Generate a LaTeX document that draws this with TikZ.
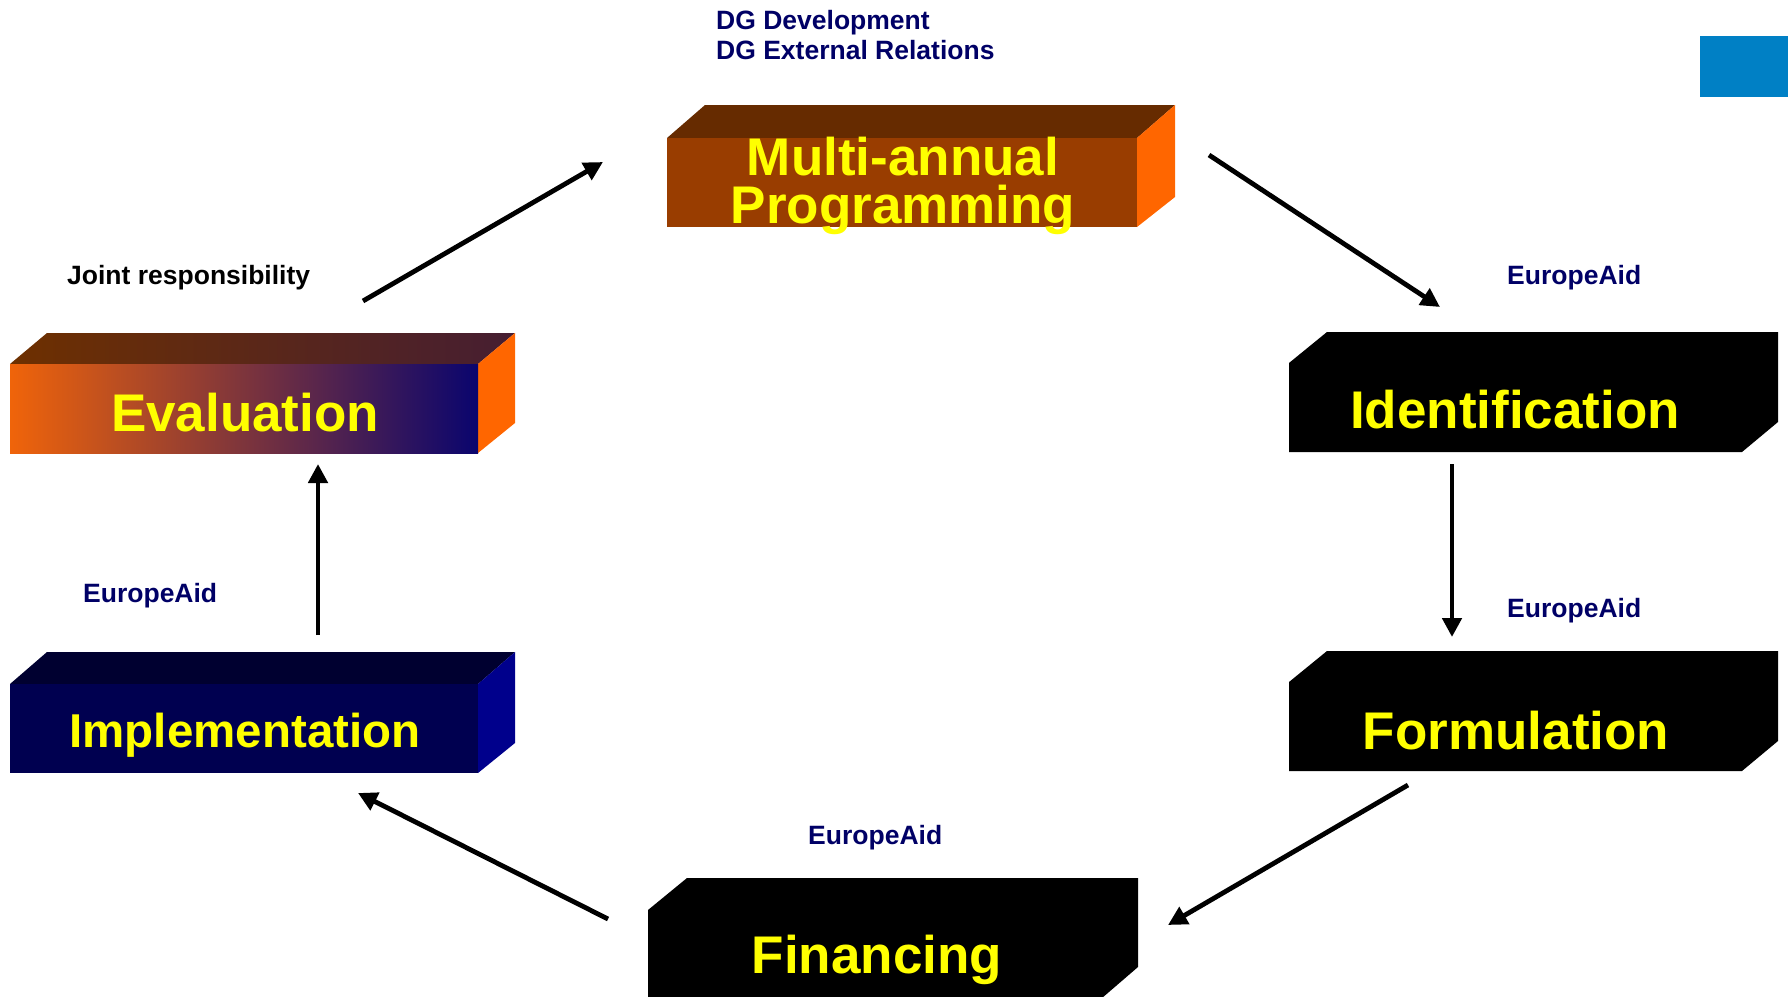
\documentclass[tikz,border=0pt]{standalone}
\usepackage{fontspec}
\setmainfont{Liberation Sans}
\usetikzlibrary{arrows.meta}
\definecolor{navytxt}{RGB}{0,0,102}
\definecolor{boxyellow}{RGB}{255,255,0}
\definecolor{mfront}{RGB}{153,61,0}
\definecolor{mtop}{RGB}{102,43,0}
\definecolor{morange}{RGB}{255,102,0}
\definecolor{evleft}{RGB}{240,100,10}
\definecolor{evmid}{RGB}{135,55,60}
\definecolor{evright}{RGB}{10,5,110}
\definecolor{evtopl}{RGB}{110,48,0}
\definecolor{evtopr}{RGB}{70,30,50}
\definecolor{imfront}{RGB}{0,0,80}
\definecolor{imtop}{RGB}{0,0,48}
\definecolor{imright}{RGB}{0,0,140}
\definecolor{logoblue}{RGB}{0,128,197}
\tikzset{
  bigtxt/.style={text=boxyellow, font=\fontsize{53}{47}\selectfont\bfseries, inner sep=0pt, anchor=base, align=center},
  lbl/.style={text=navytxt, font=\fontsize{26.5}{26}\selectfont\bfseries, inner sep=0pt, anchor=base west, align=left},
  lblk/.style={text=black, font=\fontsize{26.5}{26}\selectfont\bfseries, inner sep=0pt, anchor=base west},
  flow/.style={line width=4.8pt, -{Triangle[length=19pt,width=19pt]}}
}
\begin{document}
\begin{tikzpicture}[x=1pt,y=-1pt]
\useasboundingbox (0,0) rectangle (1788,996);
\clip (0,0) rectangle (1788,996);
% logo block
\fill[logoblue] (1700,36) rectangle (1790,97);
% Multi-annual programming box
\fill[mtop] (667,138) -- (705,105) -- (1175,105) -- (1137,138) -- cycle;
\fill[morange] (1137,138) -- (1175,105) -- (1175,197) -- (1137,227) -- cycle;
\fill[mfront] (667,138) rectangle (1137,227);
\node[bigtxt] (multi) at (903,175) {Multi-annual};
\node[bigtxt] (prog) at (903,223) {Programming};
% Evaluation box
\shade[left color=evtopl, right color=evtopr] (10,364) -- (47,333) -- (515,333) -- (478,364) -- cycle;
\fill[morange] (478,364) -- (515,333) -- (515,423) -- (478,453) -- cycle;
\shade[left color=evleft, middle color=evmid, right color=evright] (10,364) rectangle (478,453);
\node[bigtxt] (eval) at (245,431) {Evaluation};
% Implementation box
\fill[imtop] (10,684) -- (47,652) -- (515,652) -- (478,684) -- cycle;
\fill[imright] (478,684) -- (515,652) -- (515,743) -- (478,773) -- cycle;
\fill[imfront] (10,684) rectangle (478,773);
\node[bigtxt, font=\fontsize{47.5}{47}\selectfont\bfseries] (impl) at (245,747) {Implementation};
% Identification box
\fill[black] (1289,363) -- (1327,332) -- (1778,332) -- (1778,422) -- (1742,452) -- (1289,452) -- cycle;
\node[bigtxt] (ident) at (1515,428) {Identification};
% Formulation box
\fill[black] (1289,682) -- (1327,651) -- (1778,651) -- (1778,741) -- (1742,771) -- (1289,771) -- cycle;
\node[bigtxt] (form) at (1516,749) {Formulation};
% Financing box
\fill[black] (648,910) -- (687,878) -- (1138,878) -- (1138,967) -- (1102,998) -- (648,998) -- cycle;
\node[bigtxt] (fin) at (877,973) {Financing};
% labels
\node[lbl] (dg1) at (716,29.5) {DG Development};
\node[lbl] (dg2) at (716,59) {DG External Relations};
\node[lblk] (joint) at (67,284) {Joint responsibility};
\node[lbl] (ea1) at (1507,284) {EuropeAid};
\node[lbl] (ea2) at (1507,617) {EuropeAid};
\node[lbl] (ea3) at (83,602) {EuropeAid};
\node[lbl] (ea4) at (808,844) {EuropeAid};
% arrow end points
\coordinate (a1s) at (363,301); \coordinate (a1e) at (603,162);
\coordinate (a2s) at (1209,155); \coordinate (a2e) at (1440,307);
\coordinate (a3s) at (1452,464); \coordinate (a3e) at (1452,637);
\coordinate (a4s) at (1408,785); \coordinate (a4e) at (1168,925);
\coordinate (a5s) at (608,919); \coordinate (a5e) at (358,793);
\coordinate (a6s) at (318,635); \coordinate (a6e) at (318,464);
\draw[flow] (a1s) -- (a1e);
\draw[flow] (a2s) -- (a2e);
\draw[flow] (a3s) -- (a3e);
\draw[flow] (a4s) -- (a4e);
\draw[flow] (a5s) -- (a5e);
\draw[flow] (a6s) -- (a6e);
\end{tikzpicture}
\end{document}
